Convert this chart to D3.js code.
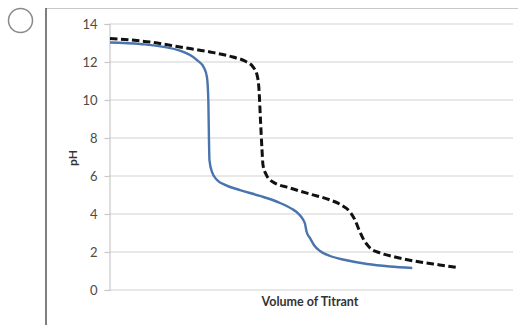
<!DOCTYPE html>
<html><head><meta charset="utf-8">
<script src="https://cdn.jsdelivr.net/npm/d3@7"></script>
<style>html,body{margin:0;padding:0;background:#fff;}svg{display:block;}</style>
</head><body>
<svg id="c" width="518" height="325"></svg>
<script>
// Data (volume in arbitrary units, pH)
const yTicks = [0, 2, 4, 6, 8, 10, 12, 14];
const strongVol = [0, 3.72, 8.68, 10.8, 11.66, 12.03, 12.2, 12.28, 12.34, 12.66, 13.28, 14.27, 16.13, 18.6, 21.1, 22.6, 23.3, 23.9, 24.2, 24.4, 24.8, 25.3, 26.05, 27.3, 29.2, 31.9, 34.7, 37.5];
const strongPH  = [13.03, 12.95, 12.6, 12.1, 11.7, 11.2, 10.0, 7.9, 6.84, 6.2, 5.79, 5.53, 5.26, 4.95, 4.58, 4.26, 4.05, 3.74, 3.47, 3.05, 2.74, 2.37, 2.05, 1.79, 1.58, 1.37, 1.24, 1.16];
const dashVol = [0, 4.96, 8.68, 12.4, 15.26, 16.75, 17.74, 18.24, 18.49, 18.67, 18.86, 18.98, 19.35, 20.22, 22.33, 24.8, 27.3, 28.9, 29.8, 30.4, 30.9, 31.5, 32.26, 33.5, 35.36, 38.46, 40.9, 43.2];
const dashPH  = [13.24, 13.05, 12.79, 12.53, 12.26, 12.05, 11.74, 11.32, 10.53, 8.95, 7.37, 6.58, 6.1, 5.68, 5.37, 5.05, 4.74, 4.42, 4.1, 3.68, 3.16, 2.63, 2.21, 1.95, 1.74, 1.47, 1.32, 1.18];
const xTitle = "Volume of Titrant";
const yTitle = "pH";

const svg = d3.select("#c");
const font = "Lato, 'Open Sans', sans-serif";

// radio circle
svg.append("circle").attr("cx", 20.5).attr("cy", 20.5).attr("r", 12)
  .attr("fill", "#fff").attr("stroke", "#8a8a8a").attr("stroke-width", 1.5);
// frame
svg.append("line").attr("x1", 46).attr("x2", 518).attr("y1", 8.5).attr("y2", 8.5)
  .attr("stroke", "#c8c8c8").attr("stroke-width", 1);
svg.append("line").attr("x1", 46).attr("x2", 46).attr("y1", 8).attr("y2", 325)
  .attr("stroke", "#555").attr("stroke-width", 1.5);

const x = d3.scaleLinear().domain([0, 50]).range([110, 513]);
const y = d3.scaleLinear().domain([0, 14]).range([290, 24]);

// gridlines
svg.append("g").selectAll("line").data(yTicks).join("line")
  .attr("x1", 109).attr("x2", 513)
  .attr("y1", d => y(d)).attr("y2", d => y(d))
  .attr("stroke", "#d2d2d2").attr("stroke-width", 1.2);

// y axis
const ya = svg.append("g").attr("transform", "translate(109.5,0)")
  .call(d3.axisLeft(y).tickValues(yTicks).tickSize(5).tickPadding(7).tickFormat(d3.format("d")));
ya.select(".domain").attr("stroke", "#c8c8c8").attr("stroke-width", 1.2);
ya.selectAll(".tick line").attr("stroke", "#c8c8c8").attr("stroke-width", 1.2);
ya.selectAll(".tick text").attr("fill", "#4a4a4a").attr("font-size", 13).attr("font-family", font);

const line = d3.line().x(d => x(d[0])).y(d => y(d[1])).curve(d3.curveMonotoneX);

svg.append("path").datum(dashVol.map((v, i) => [v, dashPH[i]]))
  .attr("d", line).attr("fill", "none").attr("stroke", "#111")
  .attr("stroke-width", 3).attr("stroke-dasharray", "7.5,3.5");

svg.append("path").datum(strongVol.map((v, i) => [v, strongPH[i]]))
  .attr("d", line).attr("fill", "none").attr("stroke", "#4a74ae")
  .attr("stroke-width", 2.4);

svg.append("text").attr("x", 310).attr("y", 306).attr("text-anchor", "middle")
  .attr("font-family", font).attr("font-weight", "bold").attr("font-size", 12.5)
  .attr("fill", "#333").text(xTitle);
svg.append("text").attr("transform", "translate(77,158) rotate(-90)")
  .attr("text-anchor", "middle").attr("font-family", font).attr("font-weight", "bold")
  .attr("font-size", 12).attr("fill", "#333").text(yTitle);
</script>
</body></html>
